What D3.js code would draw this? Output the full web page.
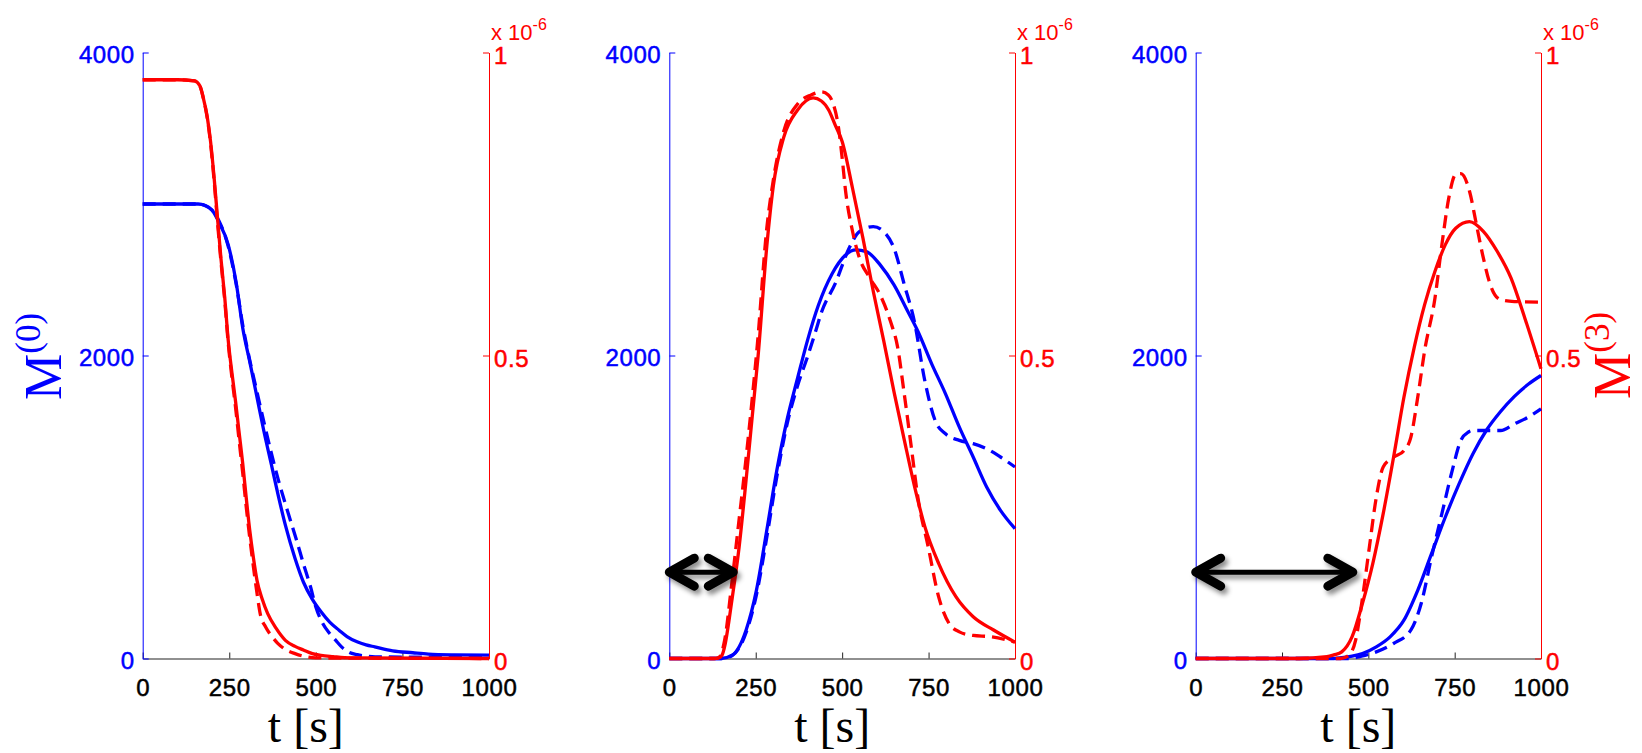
<!DOCTYPE html>
<html><head><meta charset="utf-8">
<script src="https://cdn.jsdelivr.net/npm/d3@7/dist/d3.min.js"></script>
<style>body{margin:0;background:#fff}svg{display:block}</style>
</head><body>
<svg id="c" width="1642" height="753"></svg>
<script>
// ---------- data ----------
const timeTicks = [0, 250, 500, 750, 1000];
const leftTicks = [0, 2000, 4000];
const rightTicks = [0, 0.5, 1];
const rightTickLabels = ["0", "0.5", "1"];
const leftLabels = ["M", "(0)"];
const rightLabels = ["M", "(3)"];
const xLabel = "t [s]";
const rightExponent = ["x 10", "-6"];

// Panel 1 (M0 blue, left axis; M3 red, right axis in 1e-6)
const p1BlueSolidT = [0, 100, 160, 180, 200, 220, 247, 270, 289, 310, 330, 350, 371, 392, 412, 440, 464, 490, 515, 540, 567, 590, 619, 645, 670, 722, 780, 825, 900, 1000];
const p1BlueSolidV = [3000, 3000, 3000, 2990, 2960, 2880, 2730, 2480, 2180, 1950, 1725, 1500, 1286, 1070, 880, 660, 505, 390, 308, 240, 187, 145, 110, 90, 77, 51, 38, 29, 24, 22];
const p1BlueDashT = [0, 100, 160, 180, 200, 220, 247, 270, 289, 310, 330, 350, 371, 392, 420, 443, 464, 485, 500, 520, 540, 557, 575, 593, 620, 650, 700, 1000];
const p1BlueDashV = [3000, 3000, 3000, 2990, 2960, 2890, 2720, 2470, 2200, 1960, 1760, 1560, 1360, 1176, 960, 790, 626, 470, 340, 231, 165, 121, 75, 44, 25, 15, 10, 8];
const p1RedSolidT = [0, 100, 150, 165, 175, 186, 196, 206, 216, 226, 237, 247, 258, 268, 278, 289, 299, 309, 320, 330, 345, 361, 385, 412, 440, 464, 490, 515, 550, 600, 1000];
const p1RedSolidV = [0.955, 0.955, 0.953, 0.945, 0.925, 0.895, 0.853, 0.795, 0.727, 0.66, 0.595, 0.525, 0.47, 0.425, 0.375, 0.321, 0.265, 0.212, 0.165, 0.129, 0.098, 0.074, 0.05, 0.03, 0.02, 0.014, 0.008, 0.005, 0.003, 0.001, 0];
const p1RedDashT = [0, 100, 150, 165, 175, 186, 196, 206, 216, 226, 237, 247, 258, 268, 278, 289, 299, 309, 320, 330, 340, 355, 371, 390, 412, 440, 470, 500, 1000];
const p1RedDashV = [0.955, 0.955, 0.953, 0.945, 0.925, 0.893, 0.85, 0.79, 0.72, 0.655, 0.59, 0.52, 0.462, 0.415, 0.362, 0.305, 0.25, 0.2, 0.15, 0.108, 0.072, 0.052, 0.038, 0.025, 0.015, 0.008, 0.003, 0.001, 0];

// Panel 2
const p2BlueSolidT = [0, 150, 182, 222, 252, 282, 311, 341, 371, 401, 431, 471, 510, 540, 570, 610, 650, 690, 719, 759, 799, 839, 879, 918, 958, 1000];
const p2BlueSolidV = [0, 0, 22, 187, 450, 846, 1242, 1580, 1850, 2110, 2330, 2540, 2664, 2697, 2686, 2598, 2466, 2290, 2160, 1945, 1747, 1527, 1330, 1132, 978, 857];
const p2BlueDashT = [0, 152, 182, 222, 252, 282, 311, 341, 371, 401, 421, 441, 481, 520, 550, 590, 620, 650, 680, 709, 739, 769, 799, 839, 879, 918, 958, 1000];
const p2BlueDashV = [0, 0, 20, 170, 420, 800, 1200, 1550, 1800, 2000, 2143, 2290, 2480, 2708, 2818, 2851, 2818, 2708, 2466, 2224, 1835, 1571, 1483, 1440, 1418, 1385, 1330, 1264];
const p2RedSolidT = [0, 130, 142, 152, 162, 172, 182, 202, 222, 240, 257, 282, 301, 331, 371, 416, 440, 461, 480, 500, 530, 560, 590, 620, 650, 680, 709, 739, 779, 829, 879, 938, 1000];
const p2RedSolidV = [0, 0, 0.001, 0.005, 0.025, 0.06, 0.10, 0.184, 0.294, 0.40, 0.50, 0.68, 0.78, 0.86, 0.905, 0.925, 0.92, 0.905, 0.88, 0.853, 0.776, 0.694, 0.606, 0.525, 0.44, 0.36, 0.285, 0.218, 0.157, 0.102, 0.069, 0.047, 0.027];
const p2RedDashT = [0, 130, 142, 160, 180, 200, 220, 240, 255, 282, 301, 331, 371, 410, 440, 460, 471, 491, 500, 510, 530, 550, 580, 610, 640, 660, 680, 700, 719, 749, 779, 809, 839, 879, 928, 1000];
const p2RedDashV = [0, 0, 0.001, 0.03, 0.12, 0.22, 0.32, 0.43, 0.52, 0.71, 0.79, 0.87, 0.915, 0.93, 0.935, 0.93, 0.92, 0.87, 0.826, 0.771, 0.705, 0.661, 0.628, 0.6, 0.556, 0.515, 0.435, 0.349, 0.266, 0.184, 0.102, 0.058, 0.044, 0.038, 0.036, 0.027];

// Panel 3
const p3BlueSolidT = [0, 400, 423, 453, 483, 523, 563, 603, 643, 683, 723, 763, 803, 843, 883, 923, 963, 1000];
const p3BlueSolidV = [0, 0, 5, 15, 33, 77, 143, 253, 450, 692, 934, 1154, 1352, 1510, 1630, 1730, 1810, 1868];
const p3BlueDashT = [0, 440, 480, 523, 573, 623, 653, 683, 713, 743, 768, 790, 803, 843, 883, 923, 963, 1000];
const p3BlueDashV = [0, 0, 15, 44, 99, 187, 363, 670, 956, 1242, 1440, 1495, 1505, 1505, 1505, 1549, 1593, 1648];
const p3RedSolidT = [0, 300, 380, 400, 423, 453, 483, 513, 543, 573, 603, 633, 663, 693, 723, 753, 793, 833, 873, 913, 953, 1000];
const p3RedSolidV = [0, 0, 0.003, 0.006, 0.011, 0.036, 0.091, 0.157, 0.239, 0.332, 0.431, 0.514, 0.584, 0.639, 0.683, 0.71, 0.721, 0.705, 0.672, 0.628, 0.562, 0.478];
const p3RedDashT = [0, 420, 443, 463, 483, 503, 523, 543, 573, 603, 623, 643, 663, 693, 713, 733, 753, 768, 793, 813, 833, 853, 883, 923, 1000];
const p3RedDashV = [0, 0, 0.005, 0.03, 0.10, 0.184, 0.266, 0.316, 0.332, 0.343, 0.365, 0.431, 0.508, 0.595, 0.683, 0.76, 0.799, 0.80, 0.771, 0.716, 0.661, 0.617, 0.592, 0.589, 0.588];

// Delay arrows (panels 2 and 3), in time units and left-axis units
const arrowStartT = [null, 0, 0];
const arrowEndT = [null, 185, 455];
const arrowLevel = [null, 570, 570];

// ---------- layout ----------
const W = 1642, H = 753;
const plotTop = 52.5, plotBottom = 658.5;
const panelX = [[142.7, 489], [669.3, 1015], [1195.7, 1541]];
const BLUE = "#0000ff", RED = "#ff0000";
const tickFont = "'Liberation Sans', Arial, sans-serif";
const serif = "'Liberation Serif', 'Times New Roman', serif";

const zip = (T, V) => T.map((t, i) => [t, V[i]]);
const panels = [
  {bs: zip(p1BlueSolidT, p1BlueSolidV), bd: zip(p1BlueDashT, p1BlueDashV), rs: zip(p1RedSolidT, p1RedSolidV), rd: zip(p1RedDashT, p1RedDashV)},
  {bs: zip(p2BlueSolidT, p2BlueSolidV), bd: zip(p2BlueDashT, p2BlueDashV), rs: zip(p2RedSolidT, p2RedSolidV), rd: zip(p2RedDashT, p2RedDashV)},
  {bs: zip(p3BlueSolidT, p3BlueSolidV), bd: zip(p3BlueDashT, p3BlueDashV), rs: zip(p3RedSolidT, p3RedSolidV), rd: zip(p3RedDashT, p3RedDashV)}
];

const svg = d3.select("#c");
svg.append("rect").attr("width", W).attr("height", H).attr("fill", "#fff");

const defs = svg.append("defs");
const f = defs.append("filter").attr("id", "shadow").attr("x", "-20%").attr("y", "-60%").attr("width", "140%").attr("height", "220%");
f.append("feDropShadow").attr("dx", 3).attr("dy", 4).attr("stdDeviation", 2.5).attr("flood-color", "#000").attr("flood-opacity", 0.45);

const yL = d3.scaleLinear().domain([0, 4000]).range([plotBottom, plotTop]);
const yR = d3.scaleLinear().domain([0, 1]).range([plotBottom, plotTop]);

function styleTicks(sel, color) {
  sel.attr("fill", color).attr("stroke", color).attr("stroke-width", 0.5)
    .style("font-family", tickFont).style("font-size", "24px").style("letter-spacing", "0.6px");
}

panels.forEach((p, i) => {
  const x = d3.scaleLinear().domain([0, 1000]).range(panelX[i]);
  const g = svg.append("g");

  // bottom axis
  const ax = g.append("g").attr("transform", `translate(0,${plotBottom})`)
    .call(d3.axisBottom(x).tickValues(timeTicks).tickSizeInner(-6).tickSizeOuter(0).tickPadding(20).tickFormat(d3.format("d")));
  ax.select(".domain").attr("stroke", "#222").attr("stroke-width", 1.2);
  ax.selectAll(".tick line").attr("stroke", "#222");
  styleTicks(ax.selectAll("text"), "#000");

  // left axis (blue)
  const al = g.append("g").attr("transform", `translate(${panelX[i][0]},0)`)
    .call(d3.axisLeft(yL).tickValues(leftTicks).tickSizeInner(-6).tickSizeOuter(0).tickPadding(8).tickFormat(d3.format("d")));
  al.select(".domain").attr("stroke", BLUE);
  al.selectAll(".tick line").attr("stroke", BLUE);
  styleTicks(al.selectAll("text").attr("dy", "0.42em"), BLUE);

  // right axis (red)
  const ar = g.append("g").attr("transform", `translate(${panelX[i][1]},0)`)
    .call(d3.axisRight(yR).tickValues(rightTicks).tickSizeInner(-6).tickSizeOuter(0).tickPadding(5).tickFormat((d, k) => rightTickLabels[k]));
  ar.select(".domain").attr("stroke", RED);
  ar.selectAll(".tick line").attr("stroke", RED);
  styleTicks(ar.selectAll("text").attr("dy", "0.45em"), RED);

  // exponent label
  const ex = g.append("text").attr("x", panelX[i][1] + 2).attr("y", 40).attr("fill", RED)
    .style("font-family", tickFont).style("font-size", "22px");
  ex.append("tspan").text(rightExponent[0]);
  ex.append("tspan").attr("dy", -10).style("font-size", "16px").text(rightExponent[1]);

  const lineL = d3.line().x(d => x(d[0])).y(d => yL(d[1])).curve(d3.curveMonotoneX);
  const lineR = d3.line().x(d => x(d[0])).y(d => yR(d[1])).curve(d3.curveMonotoneX);

  g.append("path").attr("d", lineL(p.bs)).attr("fill", "none").attr("stroke", BLUE).attr("stroke-width", 3.3).attr("stroke-linejoin", "round");
  g.append("path").attr("d", lineL(p.bd)).attr("fill", "none").attr("stroke", BLUE).attr("stroke-width", 3.3).attr("stroke-dasharray", "13,7");
  g.append("path").attr("d", lineR(p.rs)).attr("fill", "none").attr("stroke", RED).attr("stroke-width", 3.3).attr("stroke-linejoin", "round");
  g.append("path").attr("d", lineR(p.rd)).attr("fill", "none").attr("stroke", RED).attr("stroke-width", 3.3).attr("stroke-dasharray", "13,7");

  // x label
  g.append("text").attr("x", (panelX[i][0] + panelX[i][1]) / 2 - 10).attr("y", 742)
    .attr("text-anchor", "middle").attr("fill", "#000")
    .style("font-family", serif).style("font-size", "48px").text(xLabel);

  // arrows
  if (arrowStartT[i] !== null) {
    const x1 = x(arrowStartT[i]), x2 = x(arrowEndT[i]), yy = yL(arrowLevel[i]);
    const ag = g.append("g").attr("filter", "url(#shadow)").attr("fill", "none").attr("stroke", "#000").attr("stroke-linecap", "round").attr("stroke-linejoin", "round");
    ag.append("line").attr("x1", x1 + 4).attr("x2", x2 - 4).attr("y1", yy).attr("y2", yy).attr("stroke-width", 5);
    ag.append("path").attr("d", `M${x1 + 25},${yy - 14}L${x1},${yy}L${x1 + 25},${yy + 14}`).attr("stroke-width", 9);
    ag.append("path").attr("d", `M${x2 - 25},${yy - 14}L${x2},${yy}L${x2 - 25},${yy + 14}`).attr("stroke-width", 9);
  }
});

// y labels
function yLabel(xPos, yPos, parts, color) {
  const t = svg.append("text").attr("transform", `translate(${xPos},${yPos}) rotate(-90)`)
    .attr("fill", color).style("font-family", serif).style("font-size", "52px");
  t.append("tspan").text(parts[0]);
  t.append("tspan").attr("dy", -21).style("font-size", "35px").text(parts[1]);
}
yLabel(61, 400, leftLabels, BLUE);
yLabel(1630, 399, rightLabels, RED);
</script>
</body></html>
